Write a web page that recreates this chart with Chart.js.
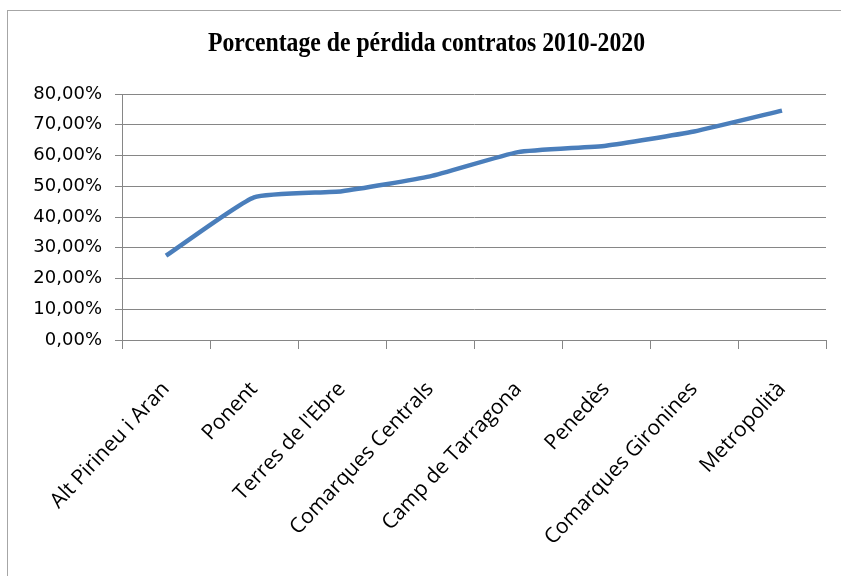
<!DOCTYPE html>
<html>
<head>
<meta charset="utf-8">
<script src="https://cdn.jsdelivr.net/npm/chart.js@4"></script>
<style>
  html, body { margin: 0; padding: 0; background: #fff; overflow: hidden; }
  #wrap { width: 841px; height: 576px; }
</style>
</head>
<body>
<div id="wrap"><canvas id="chart" width="841" height="576"></canvas></div>
<script>
// Comarques y porcentaje de pérdida de contratos
const comarques = [
  'Alt Pirineu i Aran', 'Ponent', "Terres de l'Ebre", 'Comarques Centrals',
  'Camp de Tarragona', 'Penedès', 'Comarques Gironines', 'Metropolità'
];
const perdida = [27.4, 46.4, 48.4, 53.2, 61.1, 63.2, 67.8, 74.6];
const yTicks = [0, 10, 20, 30, 40, 50, 60, 70, 80];
const titulo = 'Porcentage de pérdida contratos 2010-2020';

const gris = '#868686';

// marco exterior del gráfico
const marco = {
  id: 'marco',
  beforeDraw(chart) {
    const ctx = chart.ctx;
    ctx.save();
    ctx.fillStyle = '#fff';
    ctx.fillRect(0, 0, chart.width, chart.height);
    ctx.strokeStyle = '#a6a6a6';
    ctx.lineWidth = 1;
    ctx.strokeRect(7.5, 10.5, chart.width + 20, chart.height + 20);
    ctx.restore();
  }
};

// título estrecho y alto, centrado sobre el gráfico
const tituloEstrecho = {
  id: 'tituloEstrecho',
  afterDraw(chart) {
    const ctx = chart.ctx;
    ctx.save();
    ctx.font = 'bold 27px "Liberation Serif"';
    ctx.fillStyle = '#000';
    ctx.textAlign = 'center';
    ctx.textBaseline = 'middle';
    const ancho = ctx.measureText(titulo).width;
    const sx = 437 / ancho;
    ctx.translate(426.5, 44);
    ctx.scale(sx, 1);
    ctx.fillText(titulo, 0, 0);
    ctx.restore();
  }
};

const fmt = v => v.toFixed(2).replace('.', ',') + '%';

new Chart(document.getElementById('chart'), {
  type: 'line',
  data: {
    labels: comarques,
    datasets: [{
      data: perdida,
      borderColor: '#4a7ebb',
      borderWidth: 4.5,
      pointRadius: 0,
      tension: 0.15,
      fill: false
    }]
  },
  options: {
    responsive: false,
    animation: false,
    layout: { padding: { left: 0, right: 15, top: 94, bottom: 0 } },
    plugins: {
      legend: { display: false },
      tooltip: { enabled: false },
      title: { display: false }
    },
    scales: {
      x: {
        offset: true,
        afterFit(scale) { scale.height = 236; },
        grid: {
          offset: true,
          drawOnChartArea: false,
          drawTicks: true,
          tickLength: 9,
          color: gris
        },
        border: { color: gris, width: 1 },
        ticks: {
          color: '#000',
          minRotation: 47,
          maxRotation: 47,
          autoSkip: false,
          padding: 28,
          font: { family: 'Open Sans', size: 21 }
        }
      },
      y: {
        min: 0,
        max: 80,
        afterFit(scale) { scale.width = 122; },
        afterBuildTicks(scale) { scale.ticks = yTicks.map(v => ({ value: v })); },
        grid: { color: gris, tickLength: 7, lineWidth: 1 },
        border: { color: gris, width: 1 },
        ticks: {
          color: '#000',
          padding: 13,
          font: { family: 'DejaVu Sans', size: 18 },
          callback: v => fmt(v)
        }
      }
    }
  },
  plugins: [marco, tituloEstrecho]
});
</script>
</body>
</html>
